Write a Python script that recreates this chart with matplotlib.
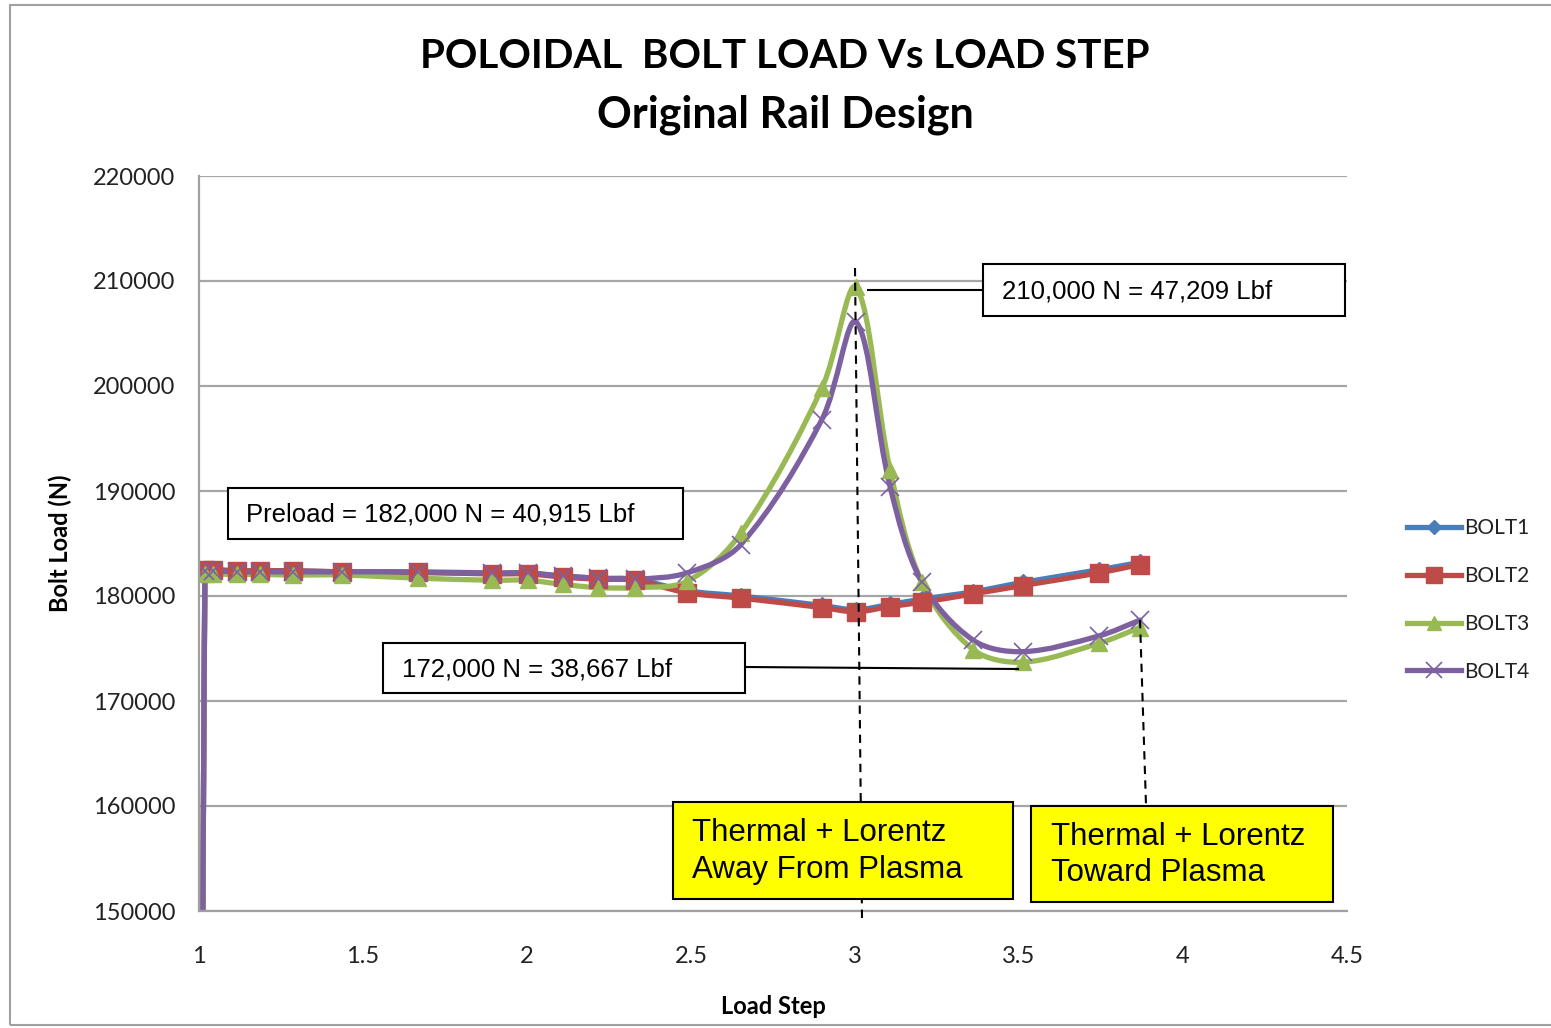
import matplotlib
matplotlib.use("Agg")
import matplotlib.pyplot as plt
import numpy as np
from matplotlib.path import Path
from matplotlib.patches import PathPatch, Rectangle
from matplotlib.lines import Line2D

# データ
steps = [1.0, 1.018, 1.043, 1.116, 1.186, 1.287, 1.436, 1.668, 1.893, 2.003, 2.110,
         2.216, 2.329, 2.488, 2.652, 2.899, 3.003, 3.107, 3.204, 3.360, 3.512, 3.744, 3.869]
bolt1 = [0, 182500, 182500, 182400, 182400, 182400, 182300, 182250, 182150, 182150, 181900,
         181700, 181600, 180500, 180000, 179100, 178700, 179200, 179700, 180400, 181300, 182500, 183200]
bolt2 = [0, 182500, 182500, 182400, 182400, 182400, 182300, 182250, 182100, 182100, 181800,
         181600, 181500, 180300, 179800, 178900, 178500, 179000, 179400, 180200, 181000, 182200, 183000]
bolt3 = [0, 182100, 182100, 182050, 182050, 182000, 182000, 181700, 181500, 181500, 181100,
         180800, 180800, 181400, 186000, 199800, 209400, 192000, 181300, 174900, 173700, 175500, 177000]
bolt4 = [0, 182400, 182400, 182300, 182300, 182300, 182300, 182300, 182200, 182200, 181900,
         181700, 181600, 182200, 184900, 196800, 206100, 190400, 181300, 175800, 174700, 176200, 177700]

series_names = ["BOLT1", "BOLT2", "BOLT3", "BOLT4"]
series_vals = [bolt1, bolt2, bolt3, bolt4]
colors = ["#4A7EBB", "#BE4B48", "#98B954", "#7D60A0"]
markers = ["D", "s", "^", "x"]
msizes = [8, 13, 12, 13]

x_ticks = [1, 1.5, 2, 2.5, 3, 3.5, 4, 4.5]
x_ticklabels = ["1", "1.5", "2", "2.5", "3", "3.5", "4", "4.5"]
y_ticks = [150000, 160000, 170000, 180000, 190000, 200000, 210000, 220000]

W, H = 1551, 1028
fig = plt.figure(figsize=(W / 100, H / 100), dpi=100)


def fx(px):
    return px / W


def fy(py):
    return 1 - py / H


# 外枠
fig.patches.append(Rectangle((fx(10), fy(1025)), fx(1600) - fx(10), fy(5) - fy(1025),
                             transform=fig.transFigure, fill=False, edgecolor="#a0a0a0", lw=1.5))

ax = fig.add_axes([fx(199), fy(911), fx(1347) - fx(199), fy(176) - fy(911)])
ax.set_xlim(1, 4.5)
ax.set_ylim(150000, 220000)
ax.set_xticks(x_ticks)
ax.set_xticklabels(x_ticklabels)
ax.set_yticks(y_ticks)
ax.tick_params(length=0, labelsize=17, colors="#222222")
ax.tick_params(axis="y", pad=17)
ax.tick_params(axis="x", pad=25)
for lab in ax.get_xticklabels() + ax.get_yticklabels():
    lab.set_fontfamily("Lato")
ax.grid(axis="y", color="#a6a6a6", lw=1.6)
ax.set_axisbelow(True)
for s in ["top", "right"]:
    ax.spines[s].set_visible(False)
for s in ["left", "bottom"]:
    ax.spines[s].set_color("#a0a0a0")
    ax.spines[s].set_linewidth(1.6)


# Excel風のスムージング曲線（ベジェ）
def smooth_path(xs, ys):
    pts = ax.transData.transform(np.column_stack([xs, ys]))
    n = len(pts)
    verts = [pts[0]]
    codes = [Path.MOVETO]
    for i in range(n - 1):
        p0 = pts[max(i - 1, 0)]
        p1 = pts[i]
        p2 = pts[i + 1]
        p3 = pts[min(i + 2, n - 1)]
        seg = np.linalg.norm(p2 - p1)
        d0 = np.linalg.norm(p1 - p0) + seg
        d1 = seg + np.linalg.norm(p3 - p2)
        c1 = p1 + (p2 - p0) * seg / (d0 or 1) / 3
        c2 = p2 - (p3 - p1) * seg / (d1 or 1) / 3
        verts += [c1, c2, p2]
        codes += [Path.CURVE4] * 3
    verts = ax.transData.inverted().transform(np.array(verts))
    return Path(verts, codes)


handles = []
for name, vals, c, m, ms in zip(series_names, series_vals, colors, markers, msizes):
    patch = PathPatch(smooth_path(steps, vals), fill=False, edgecolor=c, lw=3.8,
                      capstyle="round", joinstyle="round")
    ax.add_patch(patch)
    ax.plot(steps, vals, linestyle="none", marker=m, ms=ms, color=c,
            markeredgecolor=c, mew=1.2 if m == "x" else 1)
    handles.append(Line2D([], [], color=c, lw=3.8, marker=m, ms=ms * 0.85,
                          mew=1.2 if m == "x" else 1, label=name))

fig.text(fx(60), fy(543), "Bolt Load (N)", rotation=90, ha="center", va="center",
         fontsize=17, fontweight="bold", fontfamily="Lato")
fig.text(fx(773), fy(1007), "Load Step", ha="center", va="center",
         fontsize=17, fontweight="bold", fontfamily="Lato")

# タイトル
fig.text(fx(785), fy(57), "POLOIDAL  BOLT LOAD Vs LOAD STEP", ha="center", va="center",
         fontsize=29, fontweight="bold", fontfamily="Lato")
fig.text(fx(785), fy(115), "Original Rail Design", ha="center", va="center",
         fontsize=31, fontweight="bold", fontfamily="Lato")

# 凡例
fig.legend(handles=handles, loc="center left", bbox_to_anchor=(fx(1388), fy(600)),
           frameon=False, prop={"family": "Lato", "size": 15}, labelspacing=1.33,
           handlelength=2.6, handletextpad=0.15, labelcolor="#222222")


def box(x0, y0, x1, y1, text, tx, size, face="white", lw=1.5):
    fig.patches.append(Rectangle((fx(x0), fy(y1)), fx(x1) - fx(x0), fy(y0) - fy(y1),
                                 transform=fig.transFigure, facecolor=face,
                                 edgecolor="black", lw=lw, zorder=5))
    fig.text(fx(tx), fy((y0 + y1) / 2 + 1), text, ha="left", va="center", fontsize=size,
             fontfamily="Liberation Sans", zorder=6, linespacing=1.28)


def fline(x0, y0, x1, y1, **kw):
    fig.add_artist(Line2D([fx(x0), fx(x1)], [fy(y0), fy(y1)], transform=fig.transFigure,
                          color="black", **kw))


# 注記
fline(855, 268, 862, 918, lw=1.5, ls=(0, (4, 3)))
fline(1140, 620, 1146, 805, lw=1.5, ls=(0, (4, 3)))
fline(868, 290, 983, 290, lw=1.5)
fline(745, 667, 1018, 669, lw=1.5)
box(983, 264, 1345, 316, "210,000 N = 47,209 Lbf", 1002, 18.5)
box(228, 488, 683, 539, "Preload = 182,000 N = 40,915 Lbf", 246, 18.5)
box(383, 643, 745, 693, "172,000 N = 38,667 Lbf", 402, 18.5)
box(673, 802, 1013, 899, "Thermal + Lorentz\nAway From Plasma", 692, 22.5, face="#FFFF00")
box(1031, 806, 1333, 902, "Thermal + Lorentz\nToward Plasma", 1051, 22.5, face="#FFFF00")

fig.savefig("out.png", dpi=100)
